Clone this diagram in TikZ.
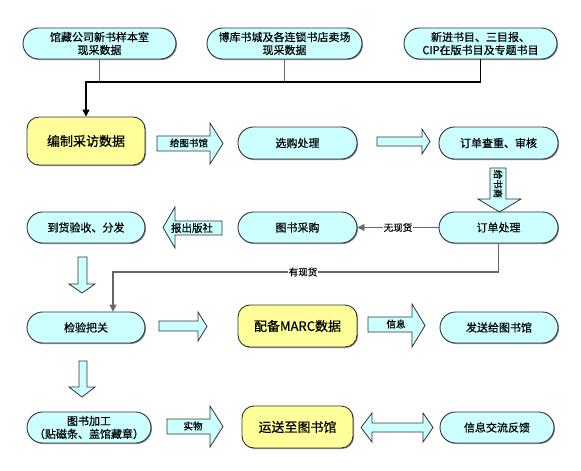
\documentclass[tikz,border=0pt]{standalone}
\usepackage{fontspec}
\setmainfont{Noto Sans CJK SC}[FakeBold=0.6]
\usetikzlibrary{arrows.meta,shadows}
\definecolor{cyanf}{HTML}{CCFFFF}
\definecolor{yelf}{HTML}{FFFF99}
\definecolor{bordc}{HTML}{333333}
\definecolor{glinec}{HTML}{666666}
\tikzset{
  shad/.style={drop shadow={shadow xshift=1pt,shadow yshift=-1pt,fill=black!45,opacity=1}},
  cbox/.style={draw=bordc, line width=0.9pt, fill=cyanf, rounded corners=15.5pt, minimum height=31pt,
    inner sep=0pt, align=center, font=\fontsize{11}{13}\selectfont, shad},
  ybox/.style={draw=bordc, line width=0.9pt, fill=yelf, rounded corners=12pt, inner sep=0pt,
    align=center, font=\fontsize{13}{15}\selectfont, shad},
  barrow/.style={draw=bordc, line width=0.8pt, fill=cyanf, line join=miter},
  lbl/.style={font=\fontsize{9.5}{11}\selectfont, inner sep=1pt},
  gline/.style={draw=glinec, line width=1.1pt},
  bline/.style={draw=black, line width=1.4pt},
  tip/.style={-{Triangle[length=7pt,width=7pt]}},
}
\begin{document}
\begin{tikzpicture}[x=1pt,y=-1pt]
\useasboundingbox[fill=white] (0,0) rectangle (581,471);
% top sources
\node[cbox, minimum width=153pt] (t1) at (99.5,43.5) {馆藏公司新书样本室\\现采数据};
\node[cbox, minimum width=155pt] (t2) at (284.5,43.5) {博库书城及各连锁书店卖场\\现采数据};
\node[cbox, minimum width=153pt] (t3) at (480.5,43.5) {新进书目、三目报、\\CIP在版书目及专题书目};
% row 1
\node[ybox, minimum width=118pt, minimum height=48pt] (y1) at (86,141) {编制采访数据};
\node[cbox, minimum width=119pt, minimum height=32pt] (s1) at (297.5,143) {选购处理};
\node[cbox, minimum width=119pt, minimum height=32pt] (o1) at (498.5,143) {订单查重、审核};
% row 2
\node[cbox, minimum width=118pt] (d2) at (86,227.5) {到货验收、分发};
\node[cbox, minimum width=119pt] (p2) at (297.5,227.5) {图书采购};
\node[cbox, minimum width=119pt] (o2) at (498.5,227.5) {订单处理};
% row 3
\node[cbox, minimum width=118pt] (c3) at (86,327.5) {检验把关};
\node[ybox, minimum width=119pt, minimum height=42pt] (m3) at (297.5,326) {配备MARC数据};
\node[cbox, minimum width=118pt] (f3) at (499,327.5) {发送给图书馆};
% row 4
\node[cbox, minimum width=124pt] (b4) at (89,427.5) {图书加工\\（贴磁条、盖馆藏章）};
\node[ybox, minimum width=111pt, minimum height=42pt] (r4) at (297.5,427) {运送至图书馆};
\node[cbox, minimum width=114pt] (i4) at (497,427.5) {信息交流反馈};
% top connectors
\coordinate (j) at (86,82);
\draw[gline] (t1.south) -- (t1.south |- j);
\draw[gline] (t2.south) -- (t2.south |- j);
\draw[bline, tip] (t3.south) |- (j) -- (y1.north);
% block arrows
\draw[barrow] (157,136) -- (210,136) -- (210,123) -- (223,143.5) -- (210,164) -- (210,151) -- (157,151) -- cycle;
\node[lbl] (la) at (189,143) {给图书馆};
\draw[barrow] (377,137) -- (422,137) -- (422,129) -- (430,141.5) -- (422,154) -- (422,146) -- (377,146) -- cycle;
\draw[barrow] (490,168) -- (506,168) -- (506,199) -- (521,199) -- (499.5,212) -- (478,199) -- (490,199) -- cycle;
\node[lbl, rotate=-90] (lb) at (498,184) {给书商};
\draw[barrow] (222,221) -- (175,221) -- (175,207) -- (163,227.5) -- (175,248) -- (175,235) -- (222,235) -- cycle;
\node[lbl, font=\fontsize{10.5}{12}\selectfont] (lc) at (192,228) {报出版社};
\draw[barrow] (78,257) -- (87,257) -- (87,284) -- (95,284) -- (82,293) -- (69,284) -- (78,284) -- cycle;
\draw[barrow] (159,321) -- (198,321) -- (198,312) -- (207,326.5) -- (198,341) -- (198,331) -- (159,331) -- cycle;
\draw[barrow] (368,317) -- (412,317) -- (412,304) -- (425,325.5) -- (412,347) -- (412,332) -- (368,332) -- cycle;
\node[lbl] (ld) at (396,324) {信息};
\draw[barrow] (79,361) -- (87,361) -- (87,387) -- (95,387) -- (82,397) -- (69,387) -- (79,387) -- cycle;
\draw[barrow] (167,419) -- (210,419) -- (210,406) -- (223,426.5) -- (210,447) -- (210,434) -- (167,434) -- cycle;
\node[lbl] (le) at (193,426) {实物};
\draw[barrow] (361,427.5) -- (372,413) -- (372,423) -- (423,423) -- (423,413) -- (433,427.5) -- (423,442) -- (423,432) -- (372,432) -- (372,442) -- cycle;
% line connectors
\draw[gline, tip] (o2.west) -- node[lbl, fill=white, text=black] {无现货} (p2.east);
\coordinate (k) at (113,272);
\draw[gline, tip] (o2.south) |- (k) -- (k |- c3.north);
\node[lbl, fill=white] (lf) at (303,272) {有现货};
\end{tikzpicture}
\end{document}
